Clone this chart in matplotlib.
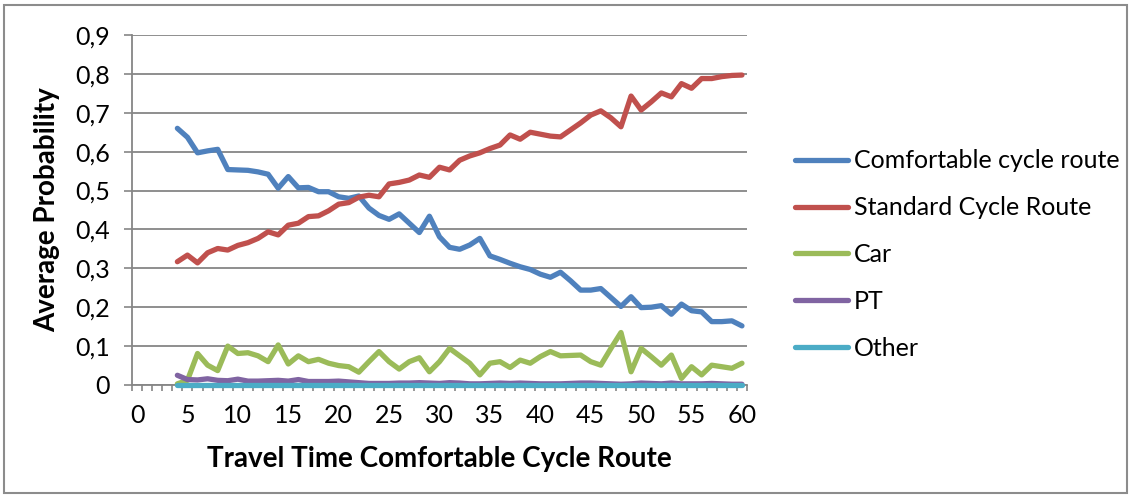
import matplotlib.pyplot as plt
from matplotlib.patches import Rectangle
from matplotlib.ticker import FuncFormatter, MultipleLocator

plt.rcParams['font.family'] = ['Lato', 'DejaVu Sans']

# Travel time (x) from 4 to 60
travel_time = list(range(4, 61))

comfortable = [0.660, 0.637, 0.597, 0.602, 0.606, 0.554, 0.553, 0.552, 0.548, 0.542,
               0.506, 0.536, 0.507, 0.508, 0.497, 0.497, 0.484, 0.480, 0.486, 0.455,
               0.436, 0.426, 0.440, 0.416, 0.392, 0.434, 0.381, 0.354, 0.349, 0.360,
               0.377, 0.332, 0.323, 0.313, 0.304, 0.297, 0.285, 0.277, 0.290, 0.268,
               0.244, 0.244, 0.248, 0.225, 0.202, 0.227, 0.199, 0.200, 0.204, 0.182,
               0.208, 0.191, 0.188, 0.163, 0.163, 0.165, 0.152]

standard = [0.317, 0.334, 0.314, 0.340, 0.351, 0.347, 0.359, 0.366, 0.377, 0.394,
            0.386, 0.411, 0.416, 0.433, 0.435, 0.448, 0.465, 0.469, 0.483, 0.488,
            0.484, 0.517, 0.521, 0.527, 0.540, 0.534, 0.560, 0.553, 0.578, 0.589,
            0.597, 0.608, 0.617, 0.643, 0.632, 0.650, 0.645, 0.640, 0.638, 0.656,
            0.674, 0.694, 0.705, 0.687, 0.664, 0.743, 0.707, 0.728, 0.751, 0.741,
            0.775, 0.763, 0.788, 0.788, 0.793, 0.796, 0.797]

car = [0.003, 0.012, 0.081, 0.051, 0.037, 0.100, 0.081, 0.083, 0.075, 0.060,
       0.103, 0.054, 0.075, 0.060, 0.066, 0.056, 0.050, 0.047, 0.033, 0.060,
       0.086, 0.060, 0.041, 0.060, 0.070, 0.034, 0.060, 0.094, 0.075, 0.056,
       0.026, 0.056, 0.060, 0.045, 0.064, 0.056, 0.073, 0.086, 0.075, 0.076,
       0.077, 0.060, 0.051, 0.094, 0.135, 0.034, 0.094, 0.073, 0.051, 0.077,
       0.017, 0.047, 0.026, 0.051, 0.047, 0.043, 0.056]

pt = [0.025, 0.014, 0.013, 0.016, 0.012, 0.011, 0.015, 0.010, 0.010, 0.011,
      0.012, 0.010, 0.014, 0.009, 0.009, 0.009, 0.010, 0.008, 0.006, 0.004,
      0.004, 0.004, 0.005, 0.005, 0.006, 0.005, 0.004, 0.006, 0.005, 0.003,
      0.003, 0.004, 0.005, 0.004, 0.005, 0.004, 0.003, 0.003, 0.003, 0.004,
      0.005, 0.005, 0.004, 0.003, 0.002, 0.003, 0.005, 0.004, 0.003, 0.005,
      0.003, 0.003, 0.003, 0.004, 0.003, 0.002, 0.002]

other = [0.001] * 57

series_names = ["Comfortable cycle route", "Standard Cycle Route", "Car", "PT", "Other"]
series_colors = ["#4F81BD", "#C0504D", "#9BBB59", "#8064A2", "#4BACC6"]

grey = "#868686"

fig = plt.figure(figsize=(11.31, 4.99), dpi=100)
ax = fig.add_axes([132 / 1131, 1 - 385 / 499, 615 / 1131, 350 / 499])

for vals, name, col in zip([comfortable, standard, car, pt, other], series_names, series_colors):
    ax.plot(travel_time, vals, color=col, lw=3.8, label=name, solid_capstyle='round',
            solid_joinstyle='round', clip_on=False, zorder=3)

ax.set_xlim(-0.5, 60.5)
ax.set_ylim(0, 0.9)

# ticks
ax.xaxis.set_major_locator(MultipleLocator(5))
ax.set_xticks([i - 0.5 for i in range(62)], minor=True)
ax.yaxis.set_major_locator(MultipleLocator(0.1))
ax.yaxis.set_major_formatter(FuncFormatter(lambda v, p: "0" if abs(v) < 1e-9 else f"{v:.1f}".replace(".", ",")))
ax.tick_params(axis='x', which='major', length=0, pad=14, labelsize=18)
ax.tick_params(axis='x', which='minor', length=4, width=1.2, color=grey, direction='out')
ax.tick_params(axis='y', length=6, width=1.2, color=grey, pad=10, labelsize=18)

ax.grid(axis='y', color=grey, lw=1.3)
ax.set_axisbelow(True)
for s in ['top', 'right']:
    ax.spines[s].set_visible(False)
for s in ['left', 'bottom']:
    ax.spines[s].set_color(grey)
    ax.spines[s].set_linewidth(1.3)

ax.set_xlabel("Travel Time Comfortable Cycle Route", fontsize=20, fontweight='bold', labelpad=13)
ax.set_ylabel("Average Probability", fontsize=20, fontweight='bold')
ax.yaxis.set_label_coords(-0.117, 0.5)

leg = ax.legend(loc='center left', bbox_to_anchor=(795 / 1131, 1 - 254.5 / 499),
                bbox_transform=fig.transFigure, frameon=False, fontsize=18,
                handlelength=2.12, handletextpad=0.24, labelspacing=0.95,
                borderpad=0, borderaxespad=0)

fig.patches.append(Rectangle((4 / 1131, 6 / 499), 1123 / 1131, 488 / 499,
                             transform=fig.transFigure, fill=False,
                             edgecolor='#8c8c8c', lw=1.5))

fig.savefig("out.png", dpi=100)
